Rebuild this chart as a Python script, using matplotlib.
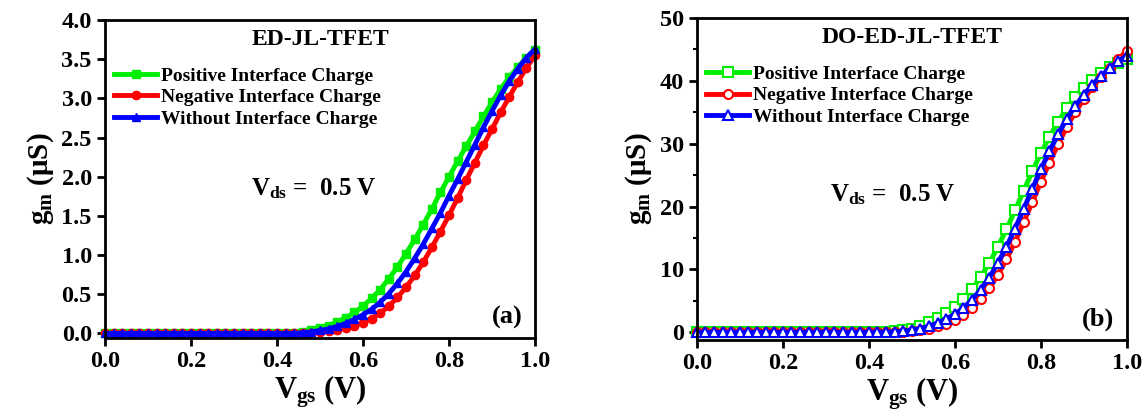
import numpy as np
import matplotlib
matplotlib.use('Agg')
import matplotlib.pyplot as plt

plt.rcParams['font.family'] = ['Liberation Serif', 'DejaVu Serif']
plt.rcParams['font.weight'] = 'bold'
plt.rcParams['mathtext.fontset'] = 'custom'
plt.rcParams['mathtext.rm'] = 'Liberation Serif:bold'
plt.rcParams['mathtext.bf'] = 'Liberation Serif:bold'
plt.rcParams['mathtext.it'] = 'Liberation Serif:bold'

# *** data ***
vgs = np.round(np.arange(0, 1.0001, 0.02), 2)
zeros = [0.0] * 22   # 0.00 ... 0.42 V

# (a) ED-JL-TFET, gm in uS (0.44 ... 1.00 V)
gm_a_pos = zeros + [0.01, 0.02, 0.04, 0.07, 0.10, 0.15, 0.20, 0.27, 0.35, 0.45,
                    0.56, 0.70, 0.85, 1.02, 1.20, 1.39, 1.59, 1.80, 2.00, 2.20,
                    2.39, 2.58, 2.77, 2.95, 3.12, 3.27, 3.40, 3.52, 3.62]
gm_a_neg = zeros + [0.00, 0.00, 0.01, 0.02, 0.03, 0.05, 0.07, 0.10, 0.14, 0.19,
                    0.26, 0.35, 0.46, 0.59, 0.74, 0.91, 1.10, 1.30, 1.51, 1.73,
                    1.96, 2.18, 2.40, 2.61, 2.82, 3.02, 3.21, 3.39, 3.55]
gm_a_wo = zeros + [0.00, 0.01, 0.02, 0.04, 0.06, 0.09, 0.13, 0.18, 0.24, 0.31,
                   0.40, 0.51, 0.64, 0.79, 0.96, 1.14, 1.34, 1.54, 1.76, 1.97,
                   2.19, 2.41, 2.63, 2.84, 3.04, 3.22, 3.38, 3.52, 3.63]

# (b) DO-ED-JL-TFET, gm in uS (0.44 ... 1.00 V)
gm_b_pos = zeros + [0.12, 0.2, 0.35, 0.6, 1.0, 1.6, 2.3, 3.1, 4.0, 5.3,
                    6.9, 8.8, 11.0, 13.6, 16.4, 19.4, 22.5, 25.6, 28.5, 31.1,
                    33.5, 35.6, 37.4, 38.9, 40.2, 41.3, 42.2, 42.9, 43.5]
gm_b_neg = zeros + [0.02, 0.05, 0.1, 0.2, 0.35, 0.6, 0.95, 1.4, 2.0, 2.8,
                    3.9, 5.3, 7.0, 9.1, 11.6, 14.4, 17.5, 20.7, 23.9, 27.0,
                    29.9, 32.6, 35.0, 37.1, 39.0, 40.6, 42.0, 43.4, 44.8]
gm_b_wo = zeros + [0.05, 0.1, 0.2, 0.35, 0.6, 1.0, 1.5, 2.1, 2.9, 3.9,
                   5.2, 6.8, 8.7, 11.0, 13.6, 16.5, 19.6, 22.8, 25.9, 28.8,
                   31.5, 33.9, 36.0, 37.8, 39.4, 40.8, 42.0, 43.1, 44.0]

labels = ['Positive Interface Charge', 'Negative Interface Charge',
          'Without Interface Charge']
colors = ['#00ee00', '#ff0000', '#0000ff']
markers = ['s', 'o', '^']

fig = plt.figure(figsize=(11.48, 4.17), dpi=100)
ax1 = fig.add_axes([0.0915, 0.189, 0.3746, 0.763])
ax2 = fig.add_axes([0.607, 0.185, 0.3746, 0.772])


def style(ax, ylim, yticks, yfmt, title, tag, vds_xy):
    ax.set_xlim(0, 1.0)
    ax.set_ylim(*ylim)
    ax.set_xticks(np.arange(0, 1.01, 0.2))
    ax.set_xticklabels(['%.1f' % t for t in np.arange(0, 1.01, 0.2)])
    ax.set_yticks(yticks)
    ax.set_yticklabels([yfmt % t for t in yticks])
    ax.tick_params(direction='out', width=2, length=6, labelsize=17.5)
    for s in ax.spines.values():
        s.set_linewidth(2)
    ax.set_xlabel(r'$\mathregular{V_{gs}}$ (V)', fontsize=22, fontweight='bold', labelpad=1)
    ax.set_ylabel(r'$\mathregular{g_m}$ ($\mathregular{\mu}$S)', fontsize=21, fontweight='bold')
    ax.text(0.5, 0.94, title, transform=ax.transAxes, ha='center', va='center',
            fontsize=17, fontweight='bold')
    ax.text(0.97, 0.065, tag, transform=ax.transAxes, ha='right', va='center',
            fontsize=19, fontweight='bold')
    ax.text(vds_xy[0], vds_xy[1], r'$\mathregular{V_{ds}}$ =  0.5 V', transform=ax.transAxes,
            ha='left', va='center', fontsize=18, fontweight='bold')
    leg = ax.legend(loc='upper left', bbox_to_anchor=(-0.01, 0.895), frameon=False,
                    prop={'size': 14, 'weight': 'bold'}, handlelength=2.2,
                    handletextpad=0.2, labelspacing=0.2, borderaxespad=0.3)
    return leg


# *** (a) ***
for y, c, m, lab in zip([gm_a_pos, gm_a_neg, gm_a_wo], colors, markers, labels):
    ax1.plot(vgs, y, color=c, marker=m, markersize=6, lw=3.5, label=lab, clip_on=False)
style(ax1, (-0.06, 4.0), np.arange(0, 4.01, 0.5), '%.1f', 'ED-JL-TFET', '(a)', (0.34, 0.47))

# *** (b) ***
for y, c, m, lab in zip([gm_b_pos, gm_b_neg, gm_b_wo], colors, markers, labels):
    ax2.plot(vgs, y, color=c, marker=m, markersize=6.5, markerfacecolor='white',
             markeredgecolor=c, markeredgewidth=1.5, lw=3.5, label=lab, clip_on=False)
style(ax2, (-1.2, 50), np.arange(0, 50.1, 10), '%d', 'DO-ED-JL-TFET', '(b)', (0.31, 0.45))
ax2.set_yticks(np.arange(5, 50, 10), minor=True)
ax2.tick_params(which='minor', direction='out', width=1.5, length=3)

fig.savefig('out.png', dpi=100)
